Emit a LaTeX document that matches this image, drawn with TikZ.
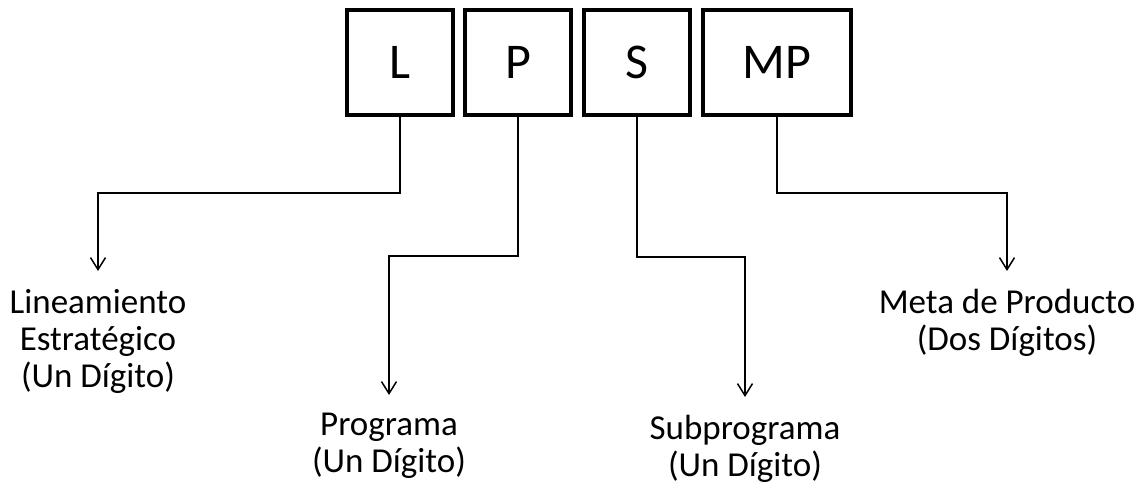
\documentclass[tikz,border=0pt]{standalone}
\usepackage{fontspec}
\setmainfont{Carlito}
\usetikzlibrary{arrows.meta}

\begin{document}
\begin{tikzpicture}[x=0.5pt, y=-0.5pt,
	digit/.style={draw, line width=2pt, minimum height=52.5pt, minimum width=53pt, inner sep=0pt, font=\fontsize{25}{30}\selectfont},
	label/.style={align=center, anchor=north, inner xsep=0pt, inner ysep=9pt, font=\fontsize{17.5}{18.5}\selectfont},
	link/.style={line width=0.75pt, -{Straight Barb[length=6pt, width=7.5pt]}}]
	 		\useasboundingbox (0,0) rectangle (1142,485);
	 		% Code boxes
	 		\node[digit] (L) at (400, 62.5) {L};
	 		\node[digit] (P) at (518, 62.5) {P};
	 		\node[digit] (S) at (637, 62.5) {S};
	 		\node[digit, minimum width=74pt] (MP) at (777, 62.5) {MP};
	 		% Descriptions
	 		\node[label] (lin) at (98, 271) {Lineamiento\\Estratégico\\(Un Dígito)};
	 		\node[label] (prog) at (389, 395) {Programa\\(Un Dígito)};
	 		\node[label] (sub) at (745, 397) {Subprograma\\(Un Dígito)};
	 		\node[label] (meta) at (1007, 271) {Meta de Producto\\(Dos Dígitos)};
	 		% Connectors
	 		\draw[link] (L.south) -- (L.south |- 0, 193) -| (lin.north);
	 		\draw[link] (P.south) -- (P.south |- 0, 256) -| (prog.north);
	 		\draw[link] (S.south) -- (S.south |- 0, 257) -| (sub.north);
	 		\draw[link] (MP.south) -- (MP.south |- 0, 193) -| (meta.north);
	 	\end{tikzpicture}
\end{document}
